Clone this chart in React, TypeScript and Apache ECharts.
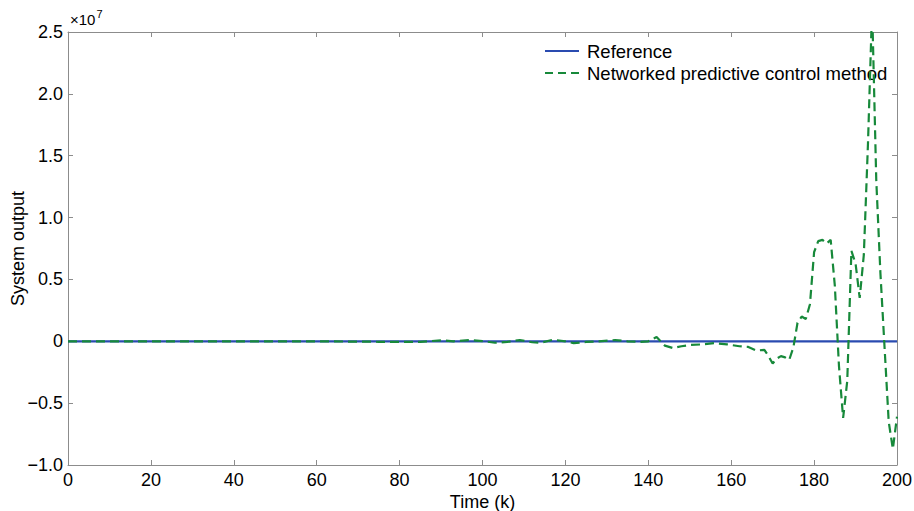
import React, { useEffect, useRef } from "react";
import * as echarts from "echarts";

// Values in units of 1e7
const referenceData: [number, number][] = [
  [0, 0],
  [200, 0],
];

const npcData: [number, number][] = [
  [0, 0], [20, 0], [40, 0], [60, 0], [75, -0.004], [85, -0.005], [90, 0.008], [93, 0],
  [97, 0.01], [100, 0.002], [103, -0.012], [106, -0.005], [109, 0.01], [112, -0.008],
  [114, -0.012], [117, 0.012], [120, 0], [122, -0.015], [125, -0.005], [128, 0],
  [132, 0.01], [135, 0], [138, -0.005], [140, 0], [142, 0.035], [144, -0.035],
  [146, -0.055], [148, -0.04], [150, -0.03], [153, -0.025], [156, -0.015], [159, -0.025],
  [162, -0.04], [164, -0.045], [166, -0.075], [168, -0.07], [169, -0.12], [170, -0.18],
  [171, -0.14], [172, -0.12], [173, -0.13], [174, -0.15], [175, -0.05], [176, 0.15],
  [177, 0.2], [178, 0.18], [179, 0.3], [180, 0.72], [181, 0.81], [182, 0.82], [183, 0.79],
  [184, 0.82], [185, 0.45], [186, -0.2], [187, -0.62], [188, -0.32], [189, 0.73],
  [190, 0.63], [191, 0.35], [192, 0.7], [193, 1.6], [194, 2.7], [195, 1.3], [196, 0.55],
  [197, -0.05], [198, -0.65], [199, -0.87], [200, -0.61],
];

const seriesNames = ["Reference", "Networked predictive control method"];
const xTicks = { min: 0, max: 200, interval: 20 };
const yTicks = { min: -1.0, max: 2.5, interval: 0.5 };

const FONT = "'Liberation Sans', Arial, Helvetica, sans-serif";
const AXIS_GRAY = "#8c8c8c";
const BLUE = "#2a4bb0";
const GREEN = "#17893a";
const DASH = [9, 5];

export default function App() {
  const ref = useRef<HTMLDivElement>(null);
  useEffect(() => {
    if (!ref.current) return;
    const chart = echarts.init(ref.current, undefined, { renderer: "svg" });
    const axisCommon = {
      axisLine: { show: true, onZero: false, lineStyle: { color: AXIS_GRAY, width: 1 } },
      axisTick: { show: true, inside: true, length: 5, lineStyle: { color: AXIS_GRAY } },
      splitLine: { show: false },
    };
    chart.setOption({
      animation: false,
      backgroundColor: "#ffffff",
      grid: {
        left: 68,
        right: 17,
        top: 32,
        bottom: 46,
        containLabel: false,
        outerBoundsMode: "none",
      },
      xAxis: [
        {
          type: "value",
          ...xTicks,
          ...axisCommon,
          name: "Time (k)",
          nameLocation: "middle",
          nameGap: 28,
          nameMoveOverlap: false,
          nameTextStyle: { fontFamily: FONT, fontSize: 18, color: "#000" },
          axisLabel: { fontFamily: FONT, fontSize: 18, color: "#000", margin: 6 },
        },
        {
          type: "value",
          position: "top",
          ...xTicks,
          ...axisCommon,
          axisLabel: { show: false },
        },
      ],
      yAxis: [
        {
          type: "value",
          ...yTicks,
          ...axisCommon,
          name: "System output",
          nameLocation: "middle",
          nameGap: 41,
          nameMoveOverlap: false,
          nameTextStyle: { fontFamily: FONT, fontSize: 18, color: "#000" },
          axisLabel: {
            fontFamily: FONT,
            fontSize: 18,
            color: "#000",
            margin: 5,
            formatter: (v: number) =>
              v === 0 ? "0" : (v < 0 ? "\u2212" : "") + Math.abs(v).toFixed(1),
          },
        },
        {
          type: "value",
          position: "right",
          ...yTicks,
          ...axisCommon,
          axisLabel: { show: false },
        },
      ],
      legend: { show: false },
      graphic: [
        {
          type: "text",
          left: 70,
          top: 8,
          style: {
            text: "{a|\u00d710}{b|7}",
            rich: {
              a: { fontFamily: FONT, fontSize: 15, color: "#000", verticalAlign: "bottom" },
              b: { fontFamily: FONT, fontSize: 11, color: "#000", verticalAlign: "top", padding: [0, 0, 8, 1] },
            },
          },
        },
        {
          type: "line",
          shape: { x1: 545, y1: 51, x2: 579, y2: 51 },
          style: { stroke: BLUE, lineWidth: 2.2 },
        },
        {
          type: "text",
          x: 587,
          y: 51,
          style: {
            text: seriesNames[0],
            fontFamily: FONT,
            fontSize: 18.5,
            fill: "#000",
            verticalAlign: "middle",
          },
        },
        {
          type: "line",
          shape: { x1: 545, y1: 73, x2: 579, y2: 73 },
          style: { stroke: GREEN, lineWidth: 2.2, lineDash: [8, 5] },
        },
        {
          type: "text",
          x: 587,
          y: 73,
          style: {
            text: seriesNames[1],
            fontFamily: FONT,
            fontSize: 18.5,
            fill: "#000",
            verticalAlign: "middle",
          },
        },
      ],
      series: [
        {
          name: seriesNames[0],
          type: "line",
          data: referenceData,
          symbol: "none",
          lineStyle: { color: BLUE, width: 2.2 },
          itemStyle: { color: BLUE },
          z: 3,
        },
        {
          name: seriesNames[1],
          type: "line",
          data: npcData,
          symbol: "none",
          clip: true,
          lineStyle: { color: GREEN, width: 2.2, type: DASH },
          itemStyle: { color: GREEN },
          z: 4,
        },
      ],
    });
    return () => chart.dispose();
  }, []);
  return <div ref={ref} style={{ width: 914, height: 511, position: "absolute", left: 0, top: 0 }} />;
}
